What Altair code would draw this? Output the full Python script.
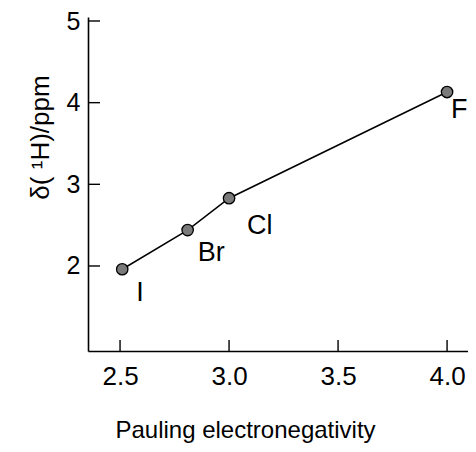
import altair as alt
import pandas as pd

elements = ["I", "Br", "Cl", "F"]
electroneg = [2.51, 2.81, 3.00, 4.00]
shift = [1.96, 2.44, 2.83, 4.13]
x_ticks = [2.5, 3.0, 3.5, 4.0]
y_ticks = [2, 3, 4, 5]

df = pd.DataFrame({"el": elements, "x": electroneg, "y": shift})
xt = pd.DataFrame({"v": x_ticks})
yt = pd.DataFrame({"v": y_ticks})

W, H = 380, 334
FONT = "Liberation Sans"
xs = alt.Scale(domain=[2.353, 4.096], nice=False, zero=False)
ys = alt.Scale(domain=[0.959, 5.049], nice=False, zero=False)

xaxis = alt.Axis(values=x_ticks, format=".1f", tickSize=0, grid=False,
                 labelFontSize=26, labelPadding=12, labelFont=FONT, labelColor="black",
                 domainColor="black", domainWidth=1.6,
                 title="Pauling electronegativity", titleFont=FONT, titleFontSize=24,
                 titleFontWeight="normal", titleColor="black",
                 titleX=157, titleY=86, titleBaseline="alphabetic", titleAnchor="middle")
yaxis = alt.Axis(values=y_ticks, format="d", tickSize=0, grid=False,
                 labelFontSize=25, labelPadding=8, labelFont=FONT, labelColor="black",
                 domainColor="black", domainWidth=1.6,
                 title="δ( ¹H)/ppm", titleFont=FONT, titleFontSize=26,
                 titleFontWeight="normal", titleColor="black",
                 titleX=-40, titleY=120, titleBaseline="alphabetic", titleAngle=270)

base = alt.Chart(df)
line = base.mark_line(color="black", strokeWidth=1.5).encode(
    x=alt.X("x:Q", scale=xs, axis=xaxis),
    y=alt.Y("y:Q", scale=ys, axis=yaxis),
)
points = base.mark_circle(size=130, fill="#7a7a7a", stroke="black", strokeWidth=1.3, opacity=1).encode(
    x=alt.X("x:Q", scale=xs),
    y=alt.Y("y:Q", scale=ys),
)

offsets = {"I": (14, 24), "Br": (10, 23), "Cl": (18, 28), "F": (4, 18)}
labels = []
for el, (dx, dy) in offsets.items():
    labels.append(
        base.transform_filter(alt.datum.el == el).mark_text(
            align="left", baseline="middle", dx=dx, dy=dy, fontSize=27, font=FONT, color="black"
        ).encode(x=alt.X("x:Q", scale=xs), y=alt.Y("y:Q", scale=ys), text="el:N")
    )

xtick_rules = alt.Chart(xt).mark_rule(color="black", strokeWidth=1.4).encode(
    x=alt.X("v:Q", scale=xs), y=alt.value(H), y2=alt.value(H - 11)
)
ytick_rules = alt.Chart(yt).mark_rule(color="black", strokeWidth=1.4).encode(
    y=alt.Y("v:Q", scale=ys), x=alt.value(0), x2=alt.value(12)
)

chart = alt.layer(line, xtick_rules, ytick_rules, points, *labels).properties(
    width=W, height=H,
    autosize=alt.AutoSizeParams(type="none"),
    padding={"left": 80, "top": 9, "right": 0, "bottom": 93},
).configure_view(stroke=None)

chart.save("out.html", embed_options={"renderer": "svg", "actions": False})
